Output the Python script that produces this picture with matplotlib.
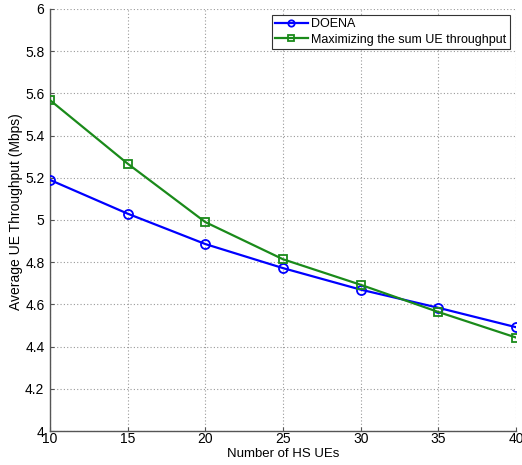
import matplotlib
matplotlib.use("Agg")
import matplotlib.pyplot as plt

plt.rcParams['font.family'] = ['Liberation Sans', 'DejaVu Sans']

x = [10, 15, 20, 25, 30, 35, 40]
doena = [5.19, 5.03, 4.886, 4.772, 4.670, 4.584, 4.492]
maxsum = [5.568, 5.267, 4.990, 4.814, 4.693, 4.564, 4.443]
xticks = [10, 15, 20, 25, 30, 35, 40]
yticks = [4, 4.2, 4.4, 4.6, 4.8, 5, 5.2, 5.4, 5.6, 5.8, 6]
ytick_labels = ['4', '4.2', '4.4', '4.6', '4.8', '5', '5.2', '5.4', '5.6', '5.8', '6']

fig = plt.figure(figsize=(5.22, 4.65), dpi=100)
ax = fig.add_axes([50/522, 34/465, 466/522, 422/465])

ax.plot(x, doena, color='#0000ff', lw=1.6, marker='o', markersize=6.5,
        markerfacecolor='none', markeredgewidth=1.3, label='DOENA', zorder=3)
ax.plot(x, maxsum, color='#1a8a1a', lw=1.6, marker='s', markersize=6,
        markerfacecolor='none', markeredgewidth=1.3,
        label='Maximizing the sum UE throughput', zorder=3)

ax.set_xlim(10, 40)
ax.set_ylim(4, 6)
ax.set_xticks(xticks)
ax.set_yticks(yticks)
ax.set_yticklabels(ytick_labels)
ax.grid(True, linestyle=(0, (1, 2)), color='#999999', linewidth=0.8)
for s in ['top', 'right']:
    ax.spines[s].set_visible(False)
for s in ['left', 'bottom']:
    ax.spines[s].set_color('#555555')
    ax.spines[s].set_linewidth(1.0)
ax.tick_params(direction='in', length=3, labelsize=10, colors='#555555',
               labelcolor='black')
ax.tick_params(axis='y', pad=4)
ax.tick_params(axis='x', pad=1)
for lbl in ax.get_yticklabels():
    lbl.set_verticalalignment('center_baseline')
ax.set_xlabel('Number of HS UEs', fontsize=9.5, labelpad=1)
ax.set_ylabel('Average UE Throughput (Mbps)', fontsize=10)
ax.yaxis.set_label_coords(-0.057, 0.52)

leg = ax.legend(loc='upper right', fontsize=9, fancybox=False,
                framealpha=1, edgecolor='#333333', borderpad=0.25,
                handlelength=2.6, handletextpad=0.3, labelspacing=0.25,
                borderaxespad=0.5, markerscale=0.7)
leg.get_frame().set_linewidth(0.8)

fig.savefig('out.png', dpi=100)
